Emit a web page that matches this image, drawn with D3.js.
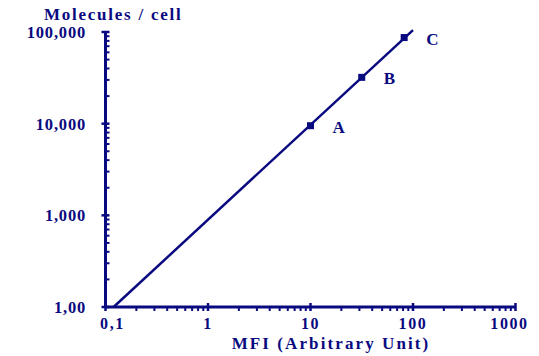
<!DOCTYPE html>
<html>
<head>
<meta charset="utf-8">
<script src="https://cdn.jsdelivr.net/npm/d3@7"></script>
<style>
  html, body { margin: 0; padding: 0; background: #fff; }
  svg { display: block; }
  text { font-family: "Liberation Serif", "Times New Roman", serif; font-weight: bold; fill: #0a0a80; }
</style>
</head>
<body>
<svg id="chart" width="539" height="356"></svg>
<script>
// Calibration data: MFI vs molecules per cell (log-log)
const xTickValues = [0.1, 1, 10, 100, 1000];
const xTickLabels = ["0,1", "1", "10", "100", "1000"];
const yTickValues = [100, 1000, 10000, 100000];
const yTickLabels = ["1,00", "1,000", "10,000", "100,000"];
const fitMFI = [0.12, 100];
const fitMolecules = [100, 105000];
const beadNames = ["A", "B", "C"];
const beadMFI = [10, 31.6, 82];
const beadMolecules = [9500, 32000, 87000];

const color = "#0a0a80";
const svg = d3.select("#chart");

const x = d3.scaleLog().domain([0.1, 1000]).range([105.5, 515.5]);
const y = d3.scaleLog().domain([100, 100000]).range([307, 32]);

// minor tick positions for each decade
function minors(lo, hi) {
  const out = [];
  for (let d = lo; d < hi; d *= 10) for (let k = 2; k <= 9; k++) out.push(d * k);
  return out;
}

// X axis: line, major ticks across, minor ticks below
const gx = svg.append("g");
gx.append("line").attr("x1", x(0.1)).attr("x2", x(1000)).attr("y1", y(100)).attr("y2", y(100))
  .attr("stroke", color).attr("stroke-width", 3);
gx.selectAll(".xmaj").data(xTickValues).join("line")
  .attr("x1", d => x(d)).attr("x2", d => x(d)).attr("y1", y(100) - 4).attr("y2", y(100) + 4)
  .attr("stroke", color).attr("stroke-width", 2.5);
gx.selectAll(".xmin").data(minors(0.1, 1000)).join("line")
  .attr("x1", d => x(d)).attr("x2", d => x(d)).attr("y1", y(100)).attr("y2", y(100) + 4)
  .attr("stroke", color).attr("stroke-width", 2);
gx.selectAll(".xlab").data(xTickValues).join("text")
  .attr("x", (d, i) => x(d) + (i === 0 ? 7 : i === 4 ? -6 : 0))
  .attr("y", 329)
  .attr("text-anchor", "middle")
  .attr("font-size", 16)
  .attr("letter-spacing", 1.6)
  .text((d, i) => xTickLabels[i]);
svg.append("text").attr("x", 331).attr("y", 349).attr("text-anchor", "middle")
  .attr("font-size", 17).attr("letter-spacing", 2.1).text("MFI (Arbitrary Unit)");

// Y axis: line, major ticks across, minor ticks inside
const gy = svg.append("g");
gy.append("line").attr("x1", x(0.1)).attr("x2", x(0.1)).attr("y1", y(100)).attr("y2", y(100000))
  .attr("stroke", color).attr("stroke-width", 3);
gy.selectAll(".ymaj").data(yTickValues).join("line")
  .attr("x1", x(0.1) - 4).attr("x2", x(0.1) + 4).attr("y1", d => y(d)).attr("y2", d => y(d))
  .attr("stroke", color).attr("stroke-width", 2.5);
gy.selectAll(".ymin").data(minors(100, 100000)).join("line")
  .attr("x1", x(0.1)).attr("x2", x(0.1) + 4).attr("y1", d => y(d)).attr("y2", d => y(d))
  .attr("stroke", color).attr("stroke-width", 2);
gy.selectAll(".ylab").data(yTickValues).join("text")
  .attr("x", 86)
  .attr("y", d => y(d) + 6)
  .attr("text-anchor", "end")
  .attr("font-size", 16.5)
  .attr("letter-spacing", 0.8)
  .text((d, i) => yTickLabels[i]);
svg.append("text").attr("x", 44).attr("y", 20)
  .attr("font-size", 17).attr("letter-spacing", 1.75).text("Molecules / cell");

// Fitted calibration line
const fit = fitMFI.map((m, i) => [m, fitMolecules[i]]);
svg.append("path")
  .datum(fit)
  .attr("d", d3.line().x(d => x(d[0])).y(d => y(d[1])))
  .attr("stroke", color).attr("stroke-width", 2.5).attr("fill", "none");

// Bead populations
const beads = beadNames.map((n, i) => ({ name: n, mfi: beadMFI[i], mol: beadMolecules[i] }));
svg.selectAll(".bead").data(beads).join("rect")
  .attr("x", d => x(d.mfi) - 3.5).attr("y", d => y(d.mol) - 3.5)
  .attr("width", 7).attr("height", 7).attr("fill", color);
svg.selectAll(".beadlab").data(beads).join("text")
  .attr("x", d => x(d.mfi) + 22).attr("y", d => y(d.mol) + 7)
  .attr("font-size", 17)
  .text(d => d.name);
</script>
</body>
</html>
